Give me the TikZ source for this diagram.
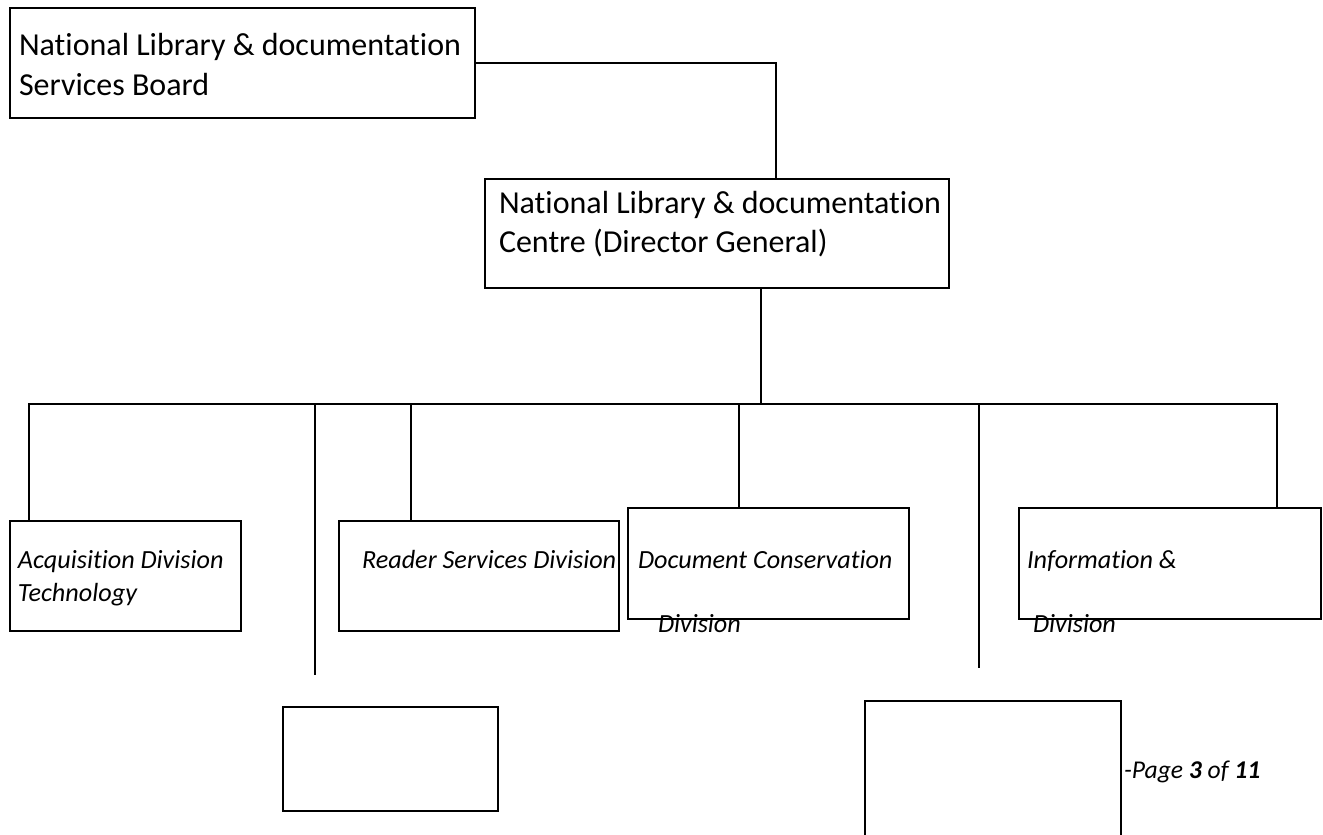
\documentclass[tikz,border=0pt]{standalone}
\usepackage{fontspec}
\setmainfont{Carlito}[Ligatures={NoCommon}]

\begin{document}
\begin{tikzpicture}[
        x=0.5pt, y=-0.5pt,
        line width=1pt,
        box/.style={draw, anchor=north west, inner sep=0pt, outer sep=0pt},
        headtext/.style={anchor=base west, inner sep=0pt, font=\fontsize{16}{20}\selectfont},
        divtext/.style={anchor=base west, inner sep=0pt, font=\fontsize{13.1}{16.5}\selectfont\itshape}
    ]
        \useasboundingbox (0,0) rectangle (1323,835);
        \clip (0,0) rectangle (1323,835);

        % Board and Director General
        \node[box, minimum width=232.5pt, minimum height=55pt] (board) at (10,8) {};
        \node[box, minimum width=232pt, minimum height=54.5pt] (dg) at (485,179) {};
        \node[headtext] (boardA) at (18,55) {National Library \& documentation};
        \node[headtext] (boardB) at (18,95) {Services Board};
        \node[headtext] (dgA) at (498,213) {National Library \& documentation};
        \node[headtext] (dgB) at (498,252) {Centre (Director General)};

        % Divisions
        \node[box, minimum width=115.5pt, minimum height=55pt] (acq) at (10,521) {};
        \node[box, minimum width=140pt, minimum height=55pt] (reader) at (339,521) {};
        \node[box, minimum width=140.5pt, minimum height=55.5pt] (dcons) at (628,508) {};
        \node[box, minimum width=151pt, minimum height=55.5pt] (info) at (1019,508) {};
        \node[divtext] (acqA) at (17,568) {Acquisition Division};
        \node[divtext] (acqB) at (17,601) {Technology};
        \node[divtext] (readerA) at (361,568) {Reader Services Division};
        \node[divtext] (dconsA) at (637,568) {Document Conservation};
        \node[divtext] (dconsB) at (657,632) {Division};
        \node[divtext] (infoA) at (1026,568) {Information \&};
        \node[divtext] (infoB) at (1032,632) {Division};

        % Empty boxes
        \node[box, minimum width=107.5pt, minimum height=52pt] (emptyA) at (283,707) {};
        \node[box, minimum width=128pt, minimum height=75pt] (emptyB) at (865,701) {};

        % Page label
        \node[anchor=base west, inner sep=0pt, font=\fontsize{12.8}{15}\selectfont\itshape] (page) at (1123,778) {-Page \textbf{3} of \textbf{11}};

        % Bus and taps
        \coordinate (jn) at (776,0);
        \coordinate (busL) at (29,404);
        \coordinate (busR) at (1277,404);
        \coordinate (tapA) at (315,404);
        \coordinate (endA) at (315,675);
        \coordinate (tapRd) at (411,404);
        \coordinate (tapDC) at (739,404);
        \coordinate (tapDG) at (761,404);
        \coordinate (tapB) at (979,404);
        \coordinate (endB) at (979,668);

        % Lines
        \draw (board.east) -| (jn |- dg.north);
        \draw (dg.south -| tapDG) -- (tapDG);
        \draw (busL |- acq.north) -- (busL) -- (busR) -- (busR |- info.north);
        \draw (tapA) -- (endA);
        \draw (tapRd) -- (tapRd |- reader.north);
        \draw (tapDC) -- (tapDC |- dcons.north);
        \draw (tapB) -- (endB);
    \end{tikzpicture}
\end{document}
